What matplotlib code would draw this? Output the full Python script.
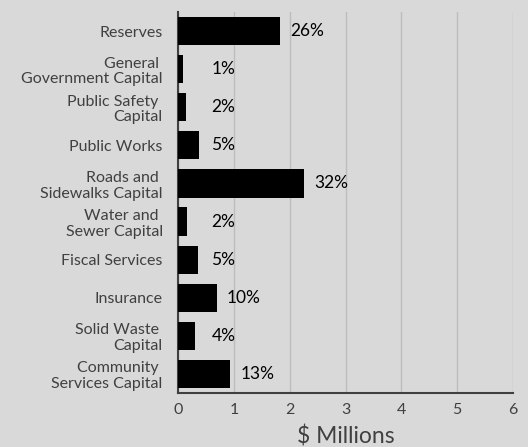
import matplotlib
matplotlib.use('Agg')
from matplotlib import pyplot as plt

# Budget categories (top to bottom) and amounts in $ millions
categories = ['Reserves', 'General \nGovernment Capital', 'Public Safety \nCapital',
              'Public Works', 'Roads and \nSidewalks Capital', 'Water and \nSewer Capital',
              'Fiscal Services', 'Insurance', 'Solid Waste \nCapital',
              'Community \nServices Capital']
amounts = [1.83, 0.09, 0.14, 0.38, 2.26, 0.17, 0.36, 0.69, 0.30, 0.94]
shares = ['26%', '1%', '2%', '5%', '32%', '2%', '5%', '10%', '4%', '13%']

bg = '#d9d9d9'
text_color = '#404040'
plt.rcParams['font.family'] = ['Lato', 'DejaVu Sans']

fig = plt.figure(figsize=(5.28, 4.47), dpi=100, facecolor=bg)
ax = fig.add_axes([178 / 528, 1 - 393 / 447, 335 / 528, 381 / 447], facecolor=bg)

pos = list(range(len(categories)))
ax.barh(pos, amounts, height=0.74, color='black', zorder=3)

for y, v, s in zip(pos, amounts, shares):
    ax.text(max(v + 0.18, 0.6), y, s, ha='left', va='center',
            fontsize=12.5, color='black', zorder=4)

ax.set_xlim(0, 6)
ax.set_ylim(len(categories) - 0.5, -0.5)
ax.set_xticks(range(7))
ax.set_yticks(pos)
ax.set_yticklabels(categories, fontsize=11.5, color=text_color, linespacing=1.15)
ax.tick_params(axis='y', length=0, pad=11)
ax.tick_params(axis='x', length=0, pad=7, labelsize=11.5, labelcolor=text_color)
ax.grid(axis='x', color='#bdbdbd', linewidth=1, zorder=0)
ax.grid(axis='y', visible=False)

for side in ['top', 'right']:
    ax.spines[side].set_visible(False)
ax.spines['left'].set_color('#404040')
ax.spines['bottom'].set_color('#404040')
ax.spines['left'].set_linewidth(1.5)
ax.spines['bottom'].set_linewidth(1.5)

ax.set_xlabel('$ Millions', fontsize=16.5, color=text_color, labelpad=6)

plt.savefig('out.png', dpi=100, facecolor=bg)
